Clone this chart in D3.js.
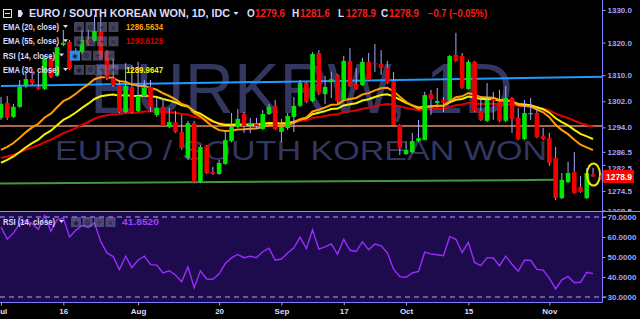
<!DOCTYPE html>
<html>
<head>
<meta charset="utf-8">
<script src="https://cdn.jsdelivr.net/npm/d3@7"></script>
<style>
  html, body { margin: 0; padding: 0; background: #000; }
  svg { display: block; font-family: "Liberation Sans", Arial, sans-serif; }
</style>
</head>
<body>
<div id="chart"></div>
<script>
// EUR/KRW daily bars, Jul 2 .. Nov 12 (weekdays)
const opens = [1296.9,1301.5,1297.2,1300.3,1306.7,1308.8,1306.4,1305.8,1315.0,1309.8,
  1319.3,1320.2,1315.0,1317.1,1320.8,1320.5,1323.3,1317.1,1309.1,1307.0,
  1298.7,1306.4,1299.0,1303.6,1306.4,1297.8,1300.3,1294.1,1295.6,1292.6,
  1284.6,1295.3,1277.2,1288.3,1280.3,1279.7,1282.8,1289.8,1294.1,1298.1,
  1294.7,1295.0,1293.5,1298.1,1300.6,1292.6,1293.8,1297.2,1300.6,1307.6,
  1302.1,1316.8,1304.2,1308.2,1310.1,1302.4,1314.4,1307.3,1307.0,1314.1,
  1313.7,1313.4,1312.2,1308.2,1294.7,1285.8,1286.4,1289.8,1290.1,1304.2,
  1301.5,1302.4,1302.4,1316.2,1315.9,1305.8,1314.1,1299.0,1296.0,1302.7,
  1301.8,1296.0,1303.0,1296.9,1290.4,1298.1,1298.4,1291.3,1290.7,1284.6,
  1272.3,1277.2,1280.3,1275.7,1272.3,1279.6];
const highs = [1303.3,1303.6,1301.2,1308.5,1311.0,1311.0,1310.7,1316.2,1315.9,1319.6,
  1323.9,1320.8,1318.3,1323.9,1323.9,1328.5,1328.5,1317.7,1315.1,1308.5,
  1313.7,1313.1,1314.1,1308.5,1308.5,1303.3,1303.0,1300.0,1299.0,1297.8,
  1296.0,1296.0,1288.6,1288.6,1281.9,1284.0,1292.9,1298.4,1299.6,1298.7,
  1296.9,1296.9,1299.3,1301.2,1302.4,1296.6,1298.4,1303.3,1308.5,1307.9,
  1317.1,1317.7,1309.8,1311.0,1310.4,1315.9,1318.3,1312.2,1315.3,1316.8,
  1319.6,1317.7,1314.4,1311.0,1295.0,1289.8,1292.3,1296.3,1304.9,1305.5,
  1306.1,1303.3,1316.2,1323.0,1316.8,1314.7,1314.4,1303.3,1307.6,1304.9,
  1305.5,1306.7,1303.3,1300.0,1302.4,1303.0,1300.3,1293.8,1292.3,1288.0,
  1280.0,1283.4,1286.4,1279.1,1281.5,1281.6];
const lows = [1296.3,1296.3,1296.9,1300.0,1306.1,1307.0,1305.5,1305.5,1309.1,1309.5,
  1318.9,1311.6,1314.7,1316.5,1319.3,1320.2,1314.7,1308.5,1306.4,1298.4,
  1298.4,1298.4,1298.7,1303.3,1298.7,1297.2,1294.1,1293.8,1292.3,1287.1,
  1284.0,1276.9,1276.9,1279.7,1279.4,1279.4,1282.5,1289.5,1293.8,1292.3,
  1292.3,1293.5,1293.2,1297.8,1293.2,1289.5,1293.2,1292.6,1300.3,1301.5,
  1301.8,1303.9,1301.2,1303.0,1301.5,1302.1,1306.4,1305.5,1306.7,1308.2,
  1311.0,1310.1,1307.3,1294.4,1285.5,1285.5,1286.1,1289.5,1290.1,1297.8,
  1300.0,1298.7,1302.1,1314.1,1305.8,1305.5,1298.7,1296.0,1295.6,1296.3,
  1295.6,1295.6,1292.3,1290.1,1290.1,1296.3,1290.7,1290.1,1282.2,1271.7,
  1272.0,1276.9,1273.6,1273.9,1272.0,1278.9];
const closes = [1301.2,1296.9,1300.3,1306.4,1308.8,1307.6,1305.8,1315.3,1309.5,1318.6,
  1319.9,1311.9,1316.8,1320.8,1319.9,1323.6,1315.3,1309.1,1307.0,1298.7,
  1306.7,1298.7,1303.6,1306.1,1300.3,1300.0,1294.4,1295.6,1292.6,1287.7,
  1295.3,1277.2,1288.0,1280.0,1279.7,1283.1,1290.1,1294.1,1296.6,1294.4,
  1295.3,1294.4,1298.1,1300.3,1293.5,1294.1,1297.5,1300.6,1307.6,1301.8,
  1316.5,1304.5,1306.4,1308.8,1302.1,1314.4,1306.7,1305.8,1314.1,1308.5,
  1313.4,1312.2,1307.6,1294.7,1287.7,1287.1,1289.8,1290.7,1303.9,1302.7,
  1302.1,1301.5,1315.9,1314.4,1306.1,1314.1,1299.0,1296.3,1302.4,1302.1,
  1296.0,1303.0,1296.6,1290.4,1298.4,1298.4,1291.0,1290.4,1283.1,1272.3,
  1277.9,1280.0,1273.9,1274.2,1280.0,1278.9];

const dateTickIdx = [0, 10, 22, 35, 45, 55, 65, 75, 88];
const dateTickLabels = ["Jul", "16", "Aug", "20", "Sep", "17", "Oct", "15", "Nov"];
const priceTicks = [1330, 1320, 1310, 1302, 1294, 1286.5, 1282.5, 1274.5, 1268.5];
const rsiTicks = [30, 40, 50, 60, 70];

// indicator state just before the first visible bar
const emaPeriods = [20, 30, 55];
const emaSeeds = [1285.6, 1281.9, 1284.0];
const rsiSeed = { prevClose: 1296.9, avgGain: 1.9, avgLoss: 1.2 };

// hand drawn lines on the chart: bar index / price at both ends
const trendStartIdx = [0, -1, -1];
const trendStartPrice = [1306.7, 1294.4, 1276.8];
const trendEndIdx = [97, 97, 89];
const trendEndPrice = [1309.5, 1294.4, 1277.9];

const lastPrice = 1278.9;

const width = 640, height = 319;
const axisX = 602.5;
const lav = "#a3a3ff";
const txt = "#dcdcff";

const svg = d3.select("#chart").append("svg")
  .attr("width", width).attr("height", height);
svg.append("rect").attr("width", width).attr("height", height).attr("fill", "#000");

const defs = svg.append("defs");
defs.append("clipPath").attr("id", "main-clip")
  .append("rect").attr("x", 0).attr("y", 0).attr("width", axisX).attr("height", 211);
defs.append("clipPath").attr("id", "rsi-clip")
  .append("rect").attr("x", 0).attr("y", 212).attr("width", axisX).attr("height", 90);
defs.append("clipPath").attr("id", "axis-clip")
  .append("rect").attr("x", axisX).attr("y", 0).attr("width", 40).attr("height", 211);

const x = d3.scaleLinear().domain([0, 95]).range([1, 593]);
const y = d3.scaleLinear().domain([1268.5, 1330]).range([210.5, 10]);
const yR = d3.scaleLinear().domain([30, 70]).range([297, 217]);

const idx = d3.range(closes.length);

// ---- indicators
function ema(period, seed) {
  const a = 2 / (period + 1);
  let e = seed;
  return closes.map(c => (e = e + a * (c - e)));
}
const emas = emaPeriods.map((p, i) => ema(p, emaSeeds[i]));

let ag = rsiSeed.avgGain, al = rsiSeed.avgLoss, prev = rsiSeed.prevClose;
const rsi = closes.map(c => {
  const ch = c - prev;
  prev = c;
  ag = (ag * 13 + Math.max(ch, 0)) / 14;
  al = (al * 13 + Math.max(-ch, 0)) / 14;
  return 100 - 100 / (1 + ag / al);
});

// ---- main pane
const main = svg.append("g").attr("clip-path", "url(#main-clip)");

// watermark
main.append("text")
  .attr("x", 90).attr("y", 113)
  .attr("font-size", 70)
  .attr("textLength", 423).attr("lengthAdjust", "spacingAndGlyphs")
  .attr("fill", "#33365f")
  .text("EURKRW, 1D");
main.append("text")
  .attr("x", 55).attr("y", 160)
  .attr("font-size", 28)
  .attr("textLength", 492).attr("lengthAdjust", "spacingAndGlyphs")
  .attr("fill", "#33365f")
  .text("EURO / SOUTH KOREAN WON");

// trend lines
const trendColors = ["#1e9bff", "#a36c50", "#3f9a3f"];
main.selectAll(".trend")
  .data(trendStartIdx)
  .enter()
  .append("line")
  .attr("class", "trend")
  .attr("x1", (d, i) => x(d))
  .attr("y1", (d, i) => y(trendStartPrice[i]))
  .attr("x2", (d, i) => x(trendEndIdx[i]))
  .attr("y2", (d, i) => y(trendEndPrice[i]))
  .attr("stroke", (d, i) => trendColors[i])
  .attr("stroke-width", 2);

// EMA lines
const emaColors = ["#ff9c00", "#f2f200", "#e00000"];
const emaLine = d3.line().x((d, i) => x(i)).y(d => y(d));
[2, 1, 0].forEach(k => {
  main.append("path")
    .attr("d", emaLine(emas[k]))
    .attr("fill", "none")
    .attr("stroke", emaColors[k])
    .attr("stroke-width", 2);
});

// candles
const up = "#00e600", down = "#f20000";
main.selectAll(".wick")
  .data(idx)
  .enter()
  .append("line")
  .attr("class", "wick")
  .attr("x1", i => x(i)).attr("x2", i => x(i))
  .attr("y1", i => y(highs[i])).attr("y2", i => y(lows[i]))
  .attr("stroke", "#a8a8ff")
  .attr("stroke-width", 1);

main.selectAll(".body")
  .data(idx)
  .enter()
  .append("rect")
  .attr("class", "body")
  .attr("x", i => x(i) - 2.3)
  .attr("width", 4.6)
  .attr("y", i => y(Math.max(opens[i], closes[i])))
  .attr("height", i => Math.max(1.2, Math.abs(y(opens[i]) - y(closes[i]))))
  .attr("fill", i => closes[i] >= opens[i] ? up : down);

// highlight ellipse on last bar
main.append("ellipse")
  .attr("cx", x(95) + 0.5).attr("cy", y(lastPrice) - 2)
  .attr("rx", 6.5).attr("ry", 11)
  .attr("fill", "none")
  .attr("stroke", "#e6e600")
  .attr("stroke-width", 2);

// ---- header
const head = svg.append("g");
head.append("rect").attr("x", 3.5).attr("y", 9.5).attr("width", 8).attr("height", 8)
  .attr("fill", "none").attr("stroke", txt);
head.append("line").attr("x1", 5).attr("x2", 10).attr("y1", 13.5).attr("y2", 13.5).attr("stroke", txt);
head.append("rect").attr("x", 18).attr("y", 10).attr("width", 7).attr("height", 7).attr("fill", txt);
head.append("path").attr("d", "M21,10 L25,10 L25,17 L21,17 L23,13.5 Z").attr("fill", "#000");
head.append("text")
  .attr("x", 29).attr("y", 17)
  .attr("font-size", 10).attr("font-weight", "bold").attr("fill", txt)
  .attr("textLength", 201).attr("lengthAdjust", "spacingAndGlyphs")
  .text("EURO / SOUTH KOREAN WON, 1D, IDC");
head.append("path").attr("d", "M233.5,12 L238.5,12 L236,15 Z").attr("fill", txt);

const ohlcLabels = ["O", "H", "L", "C"];
const ohlcValues = ["1279.6", "1281.6", "1278.9", "1278.9"];
const ohlcX = [247, 292, 338, 381];
ohlcLabels.forEach((l, i) => {
  head.append("text").attr("x", ohlcX[i]).attr("y", 17)
    .attr("font-size", 10).attr("font-weight", "bold").attr("fill", txt).text(l);
  head.append("text").attr("x", ohlcX[i] + 8).attr("y", 17)
    .attr("font-size", 10).attr("font-weight", "bold").attr("fill", "#ff1a1a")
    .attr("textLength", 30).attr("lengthAdjust", "spacingAndGlyphs")
    .text(ohlcValues[i]);
});
head.append("text").attr("x", 428).attr("y", 17)
  .attr("font-size", 10).attr("font-weight", "bold").attr("fill", "#ff1a1a")
  .attr("textLength", 59).attr("lengthAdjust", "spacingAndGlyphs")
  .text("\u22120.7 (\u22120.05%)");

// ---- indicator legend
const legendLabels = ["EMA (20, close)", "EMA (55, close)", "RSI (14, close)", "EMA (30, close)"];
const legendValues = ["1286.5634", "1293.6128", "", "1289.9647"];
const legendColors = ["#ffa200", "#d40000", "", "#f5f500"];
const iconGlyphs = ["\u25C9", "\u2699", "+", "\u00D7"];

function legendRow(g, label, value, color, yb, iconX0, valueX, highlight) {
  g.append("text").attr("x", 3).attr("y", yb)
    .attr("font-size", 9).attr("font-weight", "bold").attr("fill", txt)
    .attr("textLength", label.startsWith("RSI") ? 52 : 56).attr("lengthAdjust", "spacingAndGlyphs")
    .text(label);
  const tx = label.startsWith("RSI") ? 59 : 63;
  g.append("path").attr("d", `M${tx},${yb - 5} L${tx + 5},${yb - 5} L${tx + 2.5},${yb - 2} Z`).attr("fill", txt);
  iconGlyphs.forEach((gl, j) => {
    const bx = iconX0 + j * 11.5;
    g.append("rect").attr("x", bx).attr("y", yb - 8).attr("width", 10).attr("height", 10)
      .attr("fill", highlight && j === 0 ? "#2f8fe0" : "rgba(120,120,160,0.55)");
    g.append("text").attr("x", bx + 5).attr("y", yb - 0.5).attr("text-anchor", "middle")
      .attr("font-family", "DejaVu Sans").attr("font-size", 7)
      .attr("fill", "rgba(20,20,40,0.85)").text(gl);
  });
  if (value) {
    g.append("text").attr("x", valueX).attr("y", yb)
      .attr("font-size", 9).attr("font-weight", "bold").attr("fill", color)
      .attr("textLength", 37).attr("lengthAdjust", "spacingAndGlyphs")
      .text(value);
  }
}

const legend = svg.append("g");
legendLabels.forEach((l, i) => {
  const isRsi = l.startsWith("RSI");
  legendRow(legend, l, legendValues[i], legendColors[i], 30 + i * 14.3, isRsi ? 70 : 74, 126, isRsi);
});

// ---- price axis
const yAxis = d3.axisRight(y)
  .tickValues(priceTicks)
  .tickFormat(d3.format(".1f"))
  .tickSize(3)
  .tickPadding(2);
const yAxisG = svg.append("g")
  .attr("clip-path", "url(#axis-clip)")
  .append("g")
  .attr("transform", `translate(${axisX},0)`)
  .call(yAxis);
yAxisG.select(".domain").remove();
yAxisG.selectAll("line").attr("stroke", lav);
yAxisG.selectAll("text")
  .attr("fill", lav).attr("font-size", 8).attr("font-weight", "bold")
  .attr("font-family", "Liberation Sans, Arial, sans-serif");
// the 1282.5 label sits mostly behind the last price tag
yAxisG.selectAll(".tick").filter(d => d === 1282.5).select("text").attr("dy", "0.75em");

// last price tag
svg.append("path")
  .attr("d", `M${axisX - 3},${y(lastPrice)} L${axisX + 1},${y(lastPrice) - 6.5} L634,${y(lastPrice) - 6.5} L634,${y(lastPrice) + 6.5} L${axisX + 1},${y(lastPrice) + 6.5} Z`)
  .attr("fill", "#ff0000");
svg.append("text")
  .attr("x", 619).attr("y", y(lastPrice) + 3)
  .attr("text-anchor", "middle")
  .attr("font-size", 8.5).attr("font-weight", "bold").attr("fill", "#fff")
  .text(d3.format(".1f")(lastPrice));

// ---- RSI pane
svg.append("rect").attr("x", 0).attr("y", 212).attr("width", axisX).attr("height", 90).attr("fill", "#1d0b4e");
const rsiG = svg.append("g").attr("clip-path", "url(#rsi-clip)");
[70, 30].forEach(v => {
  svg.append("line")
    .attr("x1", 0).attr("x2", axisX + 4)
    .attr("y1", yR(v)).attr("y2", yR(v))
    .attr("stroke", "#a9a9ff").attr("stroke-width", 1.2)
    .attr("stroke-dasharray", "5,4");
});
rsiG.append("path")
  .attr("d", d3.line().x((d, i) => x(i)).y(d => yR(d))(rsi))
  .attr("fill", "none")
  .attr("stroke", "#9a2cff")
  .attr("stroke-width", 1.4);

const rsiLegend = svg.append("g");
legendRow(rsiLegend, "RSI (14, close)", "41.8520", "#a040ff", 225, 71, 122, false);

const rAxis = d3.axisRight(yR)
  .tickValues(rsiTicks)
  .tickFormat(d3.format(".4f"))
  .tickSize(3)
  .tickPadding(2);
const rAxisG = svg.append("g").attr("transform", `translate(${axisX},0)`).call(rAxis);
rAxisG.select(".domain").remove();
rAxisG.selectAll("line").attr("stroke", lav);
rAxisG.selectAll("text")
  .attr("fill", lav).attr("font-size", 8).attr("font-weight", "bold")
  .attr("font-family", "Liberation Sans, Arial, sans-serif");

// ---- frame lines
svg.append("line").attr("x1", axisX).attr("x2", axisX).attr("y1", 0).attr("y2", 302.5)
  .attr("stroke", "#7d7dff").attr("stroke-width", 1);
svg.append("line").attr("x1", 0).attr("x2", width).attr("y1", 211.5).attr("y2", 211.5)
  .attr("stroke", "#8d8dff").attr("stroke-width", 1.2);
svg.append("line").attr("x1", 0).attr("x2", axisX).attr("y1", 302.5).attr("y2", 302.5)
  .attr("stroke", "#7d7dff").attr("stroke-width", 1);

// ---- date axis
const xAxis = d3.axisBottom(x)
  .tickValues(dateTickIdx)
  .tickFormat((d, i) => dateTickLabels[i])
  .tickSize(3)
  .tickPadding(3);
const xAxisG = svg.append("g").attr("transform", "translate(0,302.5)").call(xAxis);
xAxisG.select(".domain").remove();
xAxisG.selectAll("line").attr("stroke", lav);
xAxisG.selectAll("text")
  .attr("fill", txt).attr("font-size", 8).attr("font-weight", "bold")
  .attr("font-family", "Liberation Sans, Arial, sans-serif");
</script>
</body>
</html>
